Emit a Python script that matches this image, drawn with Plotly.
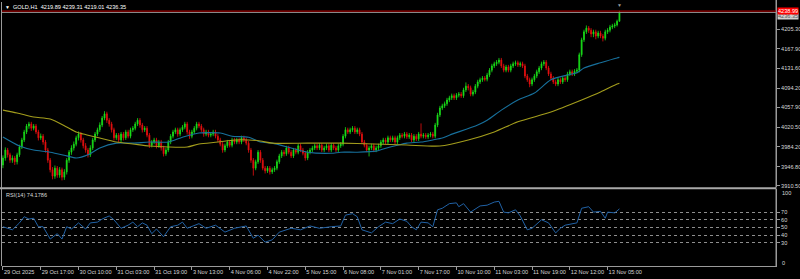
import plotly.graph_objects as go

# ---------------- data ----------------
opens = [3950,3963,3978,3969,3959,3963,3956,3969,3984,3997,
4012,4023,4027,4019,4023,4012,4001,4004,3993,3978,
3959,3941,3929,3944,3931,3941,3927,3937,3959,3974,
3982,3989,4001,4008,3997,3986,3978,3969,3982,3997,
4008,4016,4025,4038,4046,4034,4027,4016,4001,4006,
3997,4008,4001,4012,4004,4016,4019,4027,4034,4025,
4016,4019,4006,3987,3993,3997,3986,3993,3982,3971,
3978,3993,4004,4012,4016,4008,4016,4021,4027,4012,
4004,4012,4019,4027,4023,4016,4008,4012,4006,4008,
4012,4004,3997,3989,3978,3986,3993,3987,3997,3993,
3997,3993,4001,3997,3991,3978,3959,3944,3956,3974,
3959,3944,3939,3944,3937,3941,3944,3956,3967,3974,
3971,3982,3974,3967,3978,3974,3986,3978,3972,3963,
3974,3978,3982,3986,3982,3987,3978,3982,3986,3978,
3987,3982,3978,3986,3989,4004,4016,4012,4016,4019,
4012,4016,4008,3993,3987,3978,3982,3986,3978,3982,
3986,3993,3997,3993,4001,3997,4001,3993,4001,4006,
4004,4008,4003,4006,3997,4004,3999,4008,4004,4006,
4003,4006,4008,4004,4025,4044,4057,4061,4065,4072,
4076,4080,4076,4081,4083,4080,4091,4098,4095,4083,
4087,4098,4106,4110,4113,4111,4119,4128,4136,4140,
4143,4147,4136,4128,4134,4128,4136,4140,4142,4138,
4140,4136,4117,4110,4102,4110,4117,4125,4132,4140,
4143,4132,4121,4113,4106,4102,4110,4106,4113,4110,
4121,4125,4121,4126,4128,4157,4185,4200,4207,4203,
4196,4200,4192,4198,4192,4188,4200,4203,4209,4211,
4213,4219.89]

highs = [3968,3983,3982,3973,3968,3967,3973,3988,4001,4016,
4027,4031,4031,4027,4027,4016,4009,4008,3997,3982,
3963,3946,3949,3948,3946,3945,3942,3963,3978,3987,
3994,4005,4013,4012,4001,3991,3982,3987,4001,4012,
4020,4030,4042,4051,4050,4038,4031,4020,4010,4010,
4012,4012,4016,4016,4020,4023,4031,4038,4038,4029,
4023,4023,4010,3997,4001,4001,3997,3997,3986,3982,
3997,4008,4016,4020,4020,4020,4025,4031,4031,4016,
4016,4023,4031,4031,4027,4020,4016,4016,4012,4016,
4016,4008,4001,3993,3990,3997,3997,4001,4001,4001,
4001,4005,4005,4001,3995,3982,3963,3960,3978,3978,
3963,3948,3948,3948,3945,3948,3960,3971,3978,3978,
3986,3986,3978,3982,3982,3990,3990,3982,3976,3978,
3982,3986,3990,3990,3991,3991,3986,3990,3990,3991,
3991,3986,3990,3993,4008,4021,4020,4020,4023,4023,
4020,4020,4012,3997,3991,3986,3990,3990,3986,3990,
3997,4001,4001,4005,4005,4005,4005,4005,4010,4010,
4012,4012,4010,4010,4008,4008,4012,4028,4010,4010,
4010,4012,4012,4029,4048,4061,4065,4069,4076,4080,
4084,4084,4085,4087,4087,4095,4105,4102,4099,4091,
4102,4110,4114,4117,4117,4123,4132,4140,4144,4147,
4151,4151,4140,4138,4138,4140,4144,4146,4146,4144,
4144,4140,4121,4114,4114,4121,4129,4136,4144,4147,
4147,4136,4125,4117,4110,4114,4114,4117,4117,4125,
4129,4129,4130,4132,4161,4189,4204,4212,4211,4207,
4204,4204,4202,4202,4196,4204,4207,4213,4215,4217,
4223,4239.31]

lows = [3944,3958,3964,3954,3954,3950,3951,3965,3980,3993,
4008,4018,4014,4015,4008,3996,3997,3988,3973,3954,
3936,3923,3924,3926,3926,3921,3922,3932,3954,3969,
3977,3985,3996,3992,3981,3973,3964,3965,3978,3993,
4004,4012,4021,4034,4029,4022,4011,3996,3997,3992,
3993,3996,3997,4000,4000,4012,4015,4023,4020,4011,
4012,4002,3982,3983,3989,3981,3982,3977,3966,3967,
3974,3989,4000,4008,4003,4004,4012,4017,4007,3999,
4000,4008,4015,4019,4012,4003,4004,4002,4002,4004,
4000,3993,3985,3973,3974,3982,3983,3983,3989,3989,
3989,3989,3993,3987,3973,3954,3930,3940,3952,3954,
3940,3934,3935,3932,3933,3937,3940,3952,3963,3966,
3967,3970,3963,3963,3970,3970,3974,3968,3958,3959,
3970,3974,3978,3978,3978,3974,3974,3978,3974,3974,
3978,3974,3974,3982,3985,4000,4008,4008,4012,4008,
4008,4004,3989,3983,3974,3966,3978,3974,3974,3978,
3982,3989,3989,3989,3993,3993,3989,3989,3997,4000,
4000,3999,3999,3993,3993,3995,3995,4000,4000,3999,
3999,4002,4000,4000,4021,4040,4053,4057,4061,4068,
4072,4072,4072,4077,4076,4076,4087,4090,4079,4079,
4083,4094,4102,4106,4107,4107,4115,4124,4132,4136,
4139,4132,4124,4124,4124,4124,4132,4136,4134,4134,
4132,4113,4106,4096,4098,4106,4113,4121,4128,4136,
4128,4117,4109,4102,4098,4098,4102,4102,4106,4106,
4117,4117,4117,4122,4124,4153,4181,4196,4198,4190,
4190,4186,4188,4188,4182,4184,4196,4199,4205,4207,
4210,4219.01]

closes = [3963,3978,3969,3959,3963,3956,3969,3984,3997,4012,
4023,4027,4019,4023,4012,4001,4004,3993,3978,3959,
3941,3929,3944,3931,3941,3927,3937,3959,3974,3982,
3989,4001,4008,3997,3986,3978,3969,3982,3997,4008,
4016,4025,4038,4046,4034,4027,4016,4001,4006,3997,
4008,4001,4012,4004,4016,4019,4027,4034,4025,4016,
4019,4006,3987,3993,3997,3986,3993,3982,3971,3978,
3993,4004,4012,4016,4008,4016,4021,4027,4012,4004,
4012,4019,4027,4023,4016,4008,4012,4006,4008,4012,
4004,3997,3989,3978,3986,3993,3987,3997,3993,3997,
3993,4001,3997,3991,3978,3959,3944,3956,3974,3959,
3944,3939,3944,3937,3941,3944,3956,3967,3974,3971,
3982,3974,3967,3978,3974,3986,3978,3972,3963,3974,
3978,3982,3986,3982,3987,3978,3982,3986,3978,3987,
3982,3978,3986,3989,4004,4016,4012,4016,4019,4012,
4016,4008,3993,3987,3978,3982,3986,3978,3982,3986,
3993,3997,3993,4001,3997,4001,3993,4001,4006,4004,
4008,4003,4006,3997,4004,3999,4008,4004,4006,4003,
4006,4008,4004,4025,4044,4057,4061,4065,4072,4076,
4080,4076,4081,4083,4080,4091,4098,4095,4083,4087,
4098,4106,4110,4113,4111,4119,4128,4136,4140,4143,
4147,4136,4128,4134,4128,4136,4140,4142,4138,4140,
4136,4117,4110,4102,4110,4117,4125,4132,4140,4143,
4132,4121,4113,4106,4102,4110,4106,4113,4110,4121,
4125,4121,4126,4128,4157,4185,4200,4207,4203,4196,
4200,4192,4198,4192,4188,4200,4203,4209,4211,4213,
4220,4236.35]

bars = list(range(len(closes)))

ma_fast_bar = [0,7,13,20,27,31,36,41,48,55,62,70,76,83,92,97,104,109,114,122,129,
               139,143,150,158,161,167,171,177,182,186,189,201,205,211,218,225,232,
               239,243,246,253,260,261]
ma_fast_val = [4002.5,3985.6,3978,3974,3967,3963,3969,3982,3991,3991,3993,3993,4002,
               4010,4010,4004,4002,3993,3991,3982,3974,3972,3974,3974,3976,3980,3987,
               3991,3993,3997,4000.6,4006,4025,4034,4053,4072,4085,4110,4119,4123,4132,
               4142,4151,4152]

ma_slow_bar = [0,6,13,20,27,31,34,41,48,55,62,70,78,83,91,98,104,109,114,129,143,157,
               171,185,197,208,218,232,245,253,260,261]
ma_slow_val = [4053,4047.6,4040,4036.3,4021.3,4011.9,4008,4000.6,3993,3989.4,3985.6,
               3983.7,3983.7,3989.4,3993,3997,3997,3995,3991,3991,3991,3989.4,3987.5,
               3985.6,3997,4012,4031,4049.5,4072,4087,4102,4103.5]

rsi_bar = [0,1,4,7,9,11,13,15,17,20,23,25,27,29,32,35,37,40,42,45,47,50,53,55,57,59,61,
           63,65,68,71,74,76,78,81,83,86,90,94,98,103,106,108,111,114,117,122,126,130,
           134,139,143,145,148,150,152,156,159,162,165,168,171,173,175,177,180,182,184,
           186,189,192,193,195,198,202,205,208,210,212,214,217,219,222,224,228,231,234,
           236,238,243,245,248,250,253,255,256,259,261]
rsi_val = [51,50,47,56,64,61,62,51,51,35,42,35,51,48,56,48,56,57,61,65,60,49,53,57,51,56,
           53,42,48,38,51,53,57,49,52,55,49,53,44,49,52,36,40,31,34,44,49,47,52,49,51,52,
           66,68,64,47,43,51,57,55,61,58,51,47,57,56,51,73,75,81,82,77,81,70,78,79,83,84,
           70,69,73,65,47,49,60,56,43,49,53,56,75,77,70,71,62,70,69,74.1786]

time_tick_bar = [0,16,32,48,64,80,96,112,128,144,160,176,192,208,224,240,256]
time_tick_text = ["29 Oct 2025","29 Oct 17:00","30 Oct 10:00","31 Oct 03:00","31 Oct 19:00",
                  "3 Nov 13:00","4 Nov 06:00","4 Nov 22:00","5 Nov 15:00","6 Nov 08:00",
                  "7 Nov 01:00","7 Nov 17:00","10 Nov 10:00","11 Nov 03:00","11 Nov 19:00",
                  "12 Nov 12:00","13 Nov 05:00"]
price_ticks = [4205.30,4167.90,4131.60,4094.20,4057.90,4020.50,3984.20,3946.80,3910.50]
price_tick_text = ["4205.30","4167.90","4131.60","4094.20","4057.90","4020.50","3984.20",
                   "3946.80","3910.50"]
rsi_levels = [30,40,50,60,70]
rsi_level_text = ["30","40","50","60","70"]

symbol_header = "GOLD,H1  4219.89 4239.31 4219.01 4236.35"
rsi_header = "RSI(14) 74.1786"
ask_price = 4238.99
bid_price = 4236.35

# ---------------- styling ----------------
W, H = 800, 279
BG = "#000000"
GREEN = "#19e019"
RED = "#e81010"
MA_FAST = "#17709c"
MA_SLOW = "#a39d1c"
RSI_COL = "#2162a6"
AX = "#9a9a9a"
TXT = "#d8d8d8"
FONT = "Liberation Sans"
FS = 5.6

def px_x(p):
    return p / W

def px_y(p):
    return 1 - p / H

fig = go.Figure()
fig.add_trace(go.Candlestick(
    x=bars, open=opens, high=highs, low=lows, close=closes,
    increasing=dict(line=dict(color=GREEN, width=0.8), fillcolor=GREEN),
    decreasing=dict(line=dict(color=RED, width=0.8), fillcolor=RED),
    whiskerwidth=0, xaxis="x", yaxis="y", hoverinfo="skip"))
fig.add_trace(go.Scatter(x=ma_fast_bar, y=ma_fast_val, mode="lines",
                         line=dict(color=MA_FAST, width=1.1, shape="spline", smoothing=0.7),
                         xaxis="x", yaxis="y", hoverinfo="skip"))
fig.add_trace(go.Scatter(x=ma_slow_bar, y=ma_slow_val, mode="lines",
                         line=dict(color=MA_SLOW, width=1.1, shape="spline", smoothing=0.7),
                         xaxis="x", yaxis="y", hoverinfo="skip"))
fig.add_trace(go.Scatter(x=rsi_bar, y=rsi_val, mode="lines",
                         line=dict(color=RSI_COL, width=1),
                         xaxis="x", yaxis="y2", hoverinfo="skip"))

x0p, x1p = px_x(2), px_x(776)
bar_px = 2.362
x_start = -0.4
x_end = x_start + 774 / bar_px

fig.update_layout(
    width=W, height=H, autosize=False,
    margin=dict(l=0, r=0, t=0, b=0, pad=0, autoexpand=False),
    paper_bgcolor=BG, plot_bgcolor=BG,
    showlegend=False,
    font=dict(family=FONT, size=FS, color=TXT),
    boxgap=0.45,
    xaxis=dict(domain=[x0p, x1p], range=[x_start, x_end], anchor="y2",
               automargin=False,
               rangeslider=dict(visible=False), showgrid=False, zeroline=False,
               showline=True, linecolor=AX, linewidth=1,
               ticks="outside", ticklen=3, tickcolor=AX, tickwidth=1,
               tickvals=time_tick_bar, ticktext=time_tick_text, tickangle=0,
               ticklabelposition="outside right",
               tickfont=dict(family=FONT, size=FS, color=TXT)),
    yaxis=dict(domain=[px_y(187), 1], range=[3908.6, 4259.8], anchor="x", side="right",
               automargin=False,
               showgrid=False, zeroline=False, showline=True, linecolor=AX, linewidth=1,
               ticks="outside", ticklen=3, tickcolor=AX,
               tickvals=price_ticks, ticktext=price_tick_text,
               tickfont=dict(family=FONT, size=FS, color=TXT)),
    yaxis2=dict(domain=[px_y(266), px_y(189)], range=[0, 100], anchor="x", side="right",
                automargin=False,
                showgrid=True, gridcolor="#8e8e8e", griddash="dot", gridwidth=1,
                zeroline=False, showline=True, linecolor=AX, linewidth=1,
                ticks="outside", ticklen=3, tickcolor=AX,
                tickvals=rsi_levels, ticktext=rsi_level_text,
                tickfont=dict(family=FONT, size=FS, color=TXT)),
)

shapes = [
    dict(type="line", xref="paper", yref="paper", x0=px_x(1.5), x1=px_x(1.5),
         y0=px_y(266), y1=px_y(2), line=dict(color=AX, width=1)),
    dict(type="line", xref="paper", yref="paper", x0=x1p, x1=x1p,
         y0=px_y(266), y1=1, line=dict(color=AX, width=1)),
    dict(type="rect", xref="paper", yref="paper", x0=0, x1=x1p,
         y0=px_y(189.2), y1=px_y(187.2), fillcolor="#a9a9a9", line=dict(width=0)),
    dict(type="line", xref="paper", yref="y", x0=x0p, x1=x1p, y0=bid_price, y1=bid_price,
         line=dict(color="#8a8a8a", width=1)),
    dict(type="line", xref="paper", yref="y", x0=x0p, x1=x1p, y0=ask_price, y1=ask_price,
         line=dict(color="#c00000", width=1)),
]
fig.update_layout(shapes=shapes)

ann = [
    dict(text="▼", xref="paper", yref="paper", x=px_x(3), y=px_y(2), xanchor="left",
         yanchor="top", showarrow=False, font=dict(size=5, color="#ffffff")),
    dict(text=symbol_header, xref="paper", yref="paper", x=px_x(11), y=px_y(1.5),
         xanchor="left", yanchor="top", showarrow=False,
         font=dict(family=FONT, size=FS, color="#ffffff")),
    dict(text=rsi_header, xref="paper", yref="paper", x=px_x(4), y=px_y(190),
         xanchor="left", yanchor="top", showarrow=False,
         font=dict(family=FONT, size=FS, color=TXT)),
    dict(text="100", xref="paper", yref="paper", x=px_x(780), y=px_y(193.3),
         xanchor="left", yanchor="middle", showarrow=False,
         font=dict(family=FONT, size=FS, color=TXT)),
    dict(text="0", xref="paper", yref="paper", x=px_x(780), y=px_y(262.7),
         xanchor="left", yanchor="middle", showarrow=False,
         font=dict(family=FONT, size=FS, color=TXT)),
    dict(text="▼", xref="x", yref="paper", x=bars[-1], y=px_y(0.5),
         xanchor="center", yanchor="top", showarrow=False,
         font=dict(size=5, color="#9a9a9a")),
    dict(text=f"{bid_price:.2f}", xref="paper", yref="y", x=px_x(777), y=bid_price,
         xanchor="left", yanchor="top", showarrow=False, bgcolor="#d0d0d0",
         borderpad=0, font=dict(family=FONT, size=FS, color="#555555")),
    dict(text=f"{ask_price:.2f}", xref="paper", yref="y", x=px_x(777), y=ask_price,
         xanchor="left", yanchor="middle", showarrow=False, bgcolor="#ff0000",
         borderpad=0, font=dict(family=FONT, size=FS, color="#ffffff")),
]
fig.update_layout(annotations=ann)

fig.write_html("out.html")
